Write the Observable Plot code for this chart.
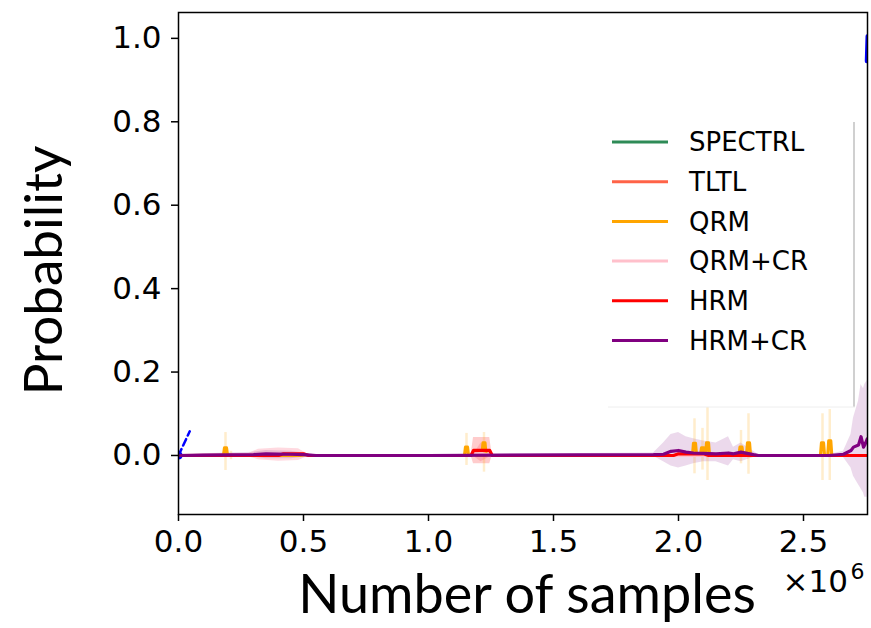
<!DOCTYPE html>
<html><head><meta charset="utf-8">
<script src="https://cdn.jsdelivr.net/npm/d3@7"></script>
<script src="https://cdn.jsdelivr.net/npm/@observablehq/plot@0.6"></script>
<style>body{margin:0;background:#fff} #chart{width:871px;height:628px}</style>
</head><body><div id="chart"></div>
<script>
// ---- data (x in millions of samples) ----
const seriesNames = ["SPECTRL","TLTL","QRM","QRM+CR","HRM","HRM+CR"];
const seriesColors = ["#2e8b57","#ff6347","#ffa500","#ffc0cb","#ff0000","#800080"];
const xTicks = [0, 0.5, 1.0, 1.5, 2.0, 2.5];
const yTicks = [0, 0.2, 0.4, 0.6, 0.8, 1.0];

const spectrlX = [0, 2.755];
const spectrlY = [0, 0];

const tltlX = [0, 0.3, 0.4, 0.5, 2.755];
const tltlY = [0, 0.001, 0.002, 0, 0];

const qrmX = [0, 0.18, 0.184, 0.192, 0.196, 1.144, 1.148, 1.156, 1.16, 1.214, 1.218, 1.226, 1.23,
  2.056, 2.06, 2.068, 2.072, 2.088, 2.092, 2.1, 2.104, 2.108, 2.112, 2.12, 2.124,
  2.242, 2.246, 2.254, 2.258, 2.272, 2.276, 2.284, 2.288, 2.568, 2.572, 2.58, 2.584,
  2.597, 2.601, 2.609, 2.613, 2.755];
const qrmY = [0, 0, 0.018, 0.018, 0, 0, 0.02, 0.02, 0, 0, 0.03, 0.03, 0,
  0, 0.029, 0.029, 0, 0, 0.018, 0.018, 0, 0, 0.03, 0.03, 0,
  0, 0.02, 0.02, 0, 0, 0.03, 0.03, 0, 0, 0.03, 0.03, 0,
  0, 0.035, 0.035, 0, 0];
// QRM spread at the spikes
const qrmSpikeX  = [0.188, 0.21, 1.152, 1.222, 2.064, 2.096, 2.116, 2.25, 2.28, 2.576, 2.605];
const qrmSpikeHi = [0.055, 0.01, 0.053, 0.055, 0.088, 0.065, 0.115, 0.06, 0.1, 0.1, 0.11];
const qrmSpikeLo = [-0.036, -0.01, -0.024, -0.04, -0.044, -0.035, -0.06, -0.02, -0.045, -0.06, -0.06];

const qrmcrX  = [0, 0.27, 0.32, 0.4, 0.48, 0.52, 1.18, 1.21, 1.25, 2.755];
const qrmcrY  = [0, 0, 0.003, 0.004, 0.003, 0, 0, 0.005, 0, 0];
const qrmcrHi = [0, 0.002, 0.015, 0.018, 0.016, 0.002, 0.002, 0.03, 0.002, 0];
const qrmcrLo = [0, -0.002, -0.01, -0.014, -0.012, -0.002, -0.002, -0.015, -0.002, 0];

const hrmX  = [0, 0.4, 0.42, 0.5, 0.52, 1.17, 1.18, 1.245, 1.255, 1.98, 2.0, 2.1, 2.12, 2.755];
const hrmY  = [0, 0, 0.004, 0.004, 0, 0, 0.012, 0.012, 0, 0, 0.004, 0.004, 0, 0];
const hrmHi = [0, 0, 0.006, 0.006, 0, 0, 0.043, 0.043, 0, 0, 0.006, 0.006, 0, 0];
const hrmLo = [0, 0, 0.002, 0.002, 0, 0, -0.02, -0.02, 0, 0, 0.002, 0.002, 0, 0];

const hrmcrX  = [0, 0.1, 0.3, 0.35, 0.45, 0.5, 0.55, 1.0, 1.9, 1.94, 1.97, 2.0, 2.03, 2.06, 2.1, 2.15, 2.2, 2.22, 2.25, 2.3, 2.32, 2.6, 2.66, 2.69, 2.70, 2.72, 2.73, 2.74, 2.745, 2.755];
const hrmcrY  = [0, 0.001, 0.002, 0.004, 0.003, 0.002, 0, 0, 0.002, 0.003, 0.01, 0.012, 0.008, 0.006, 0.005, 0.004, 0.006, 0.004, 0.008, 0.002, 0, 0, 0.003, 0.012, 0.02, 0.025, 0.045, 0.02, 0.025, 0.04];
const hrmcrHi = [0, 0.004, 0.008, 0.012, 0.01, 0.006, 0.002, 0.002, 0.006, 0.03, 0.05, 0.055, 0.045, 0.04, 0.035, 0.03, 0.045, 0.02, 0.03, 0.01, 0.002, 0.002, 0.01, 0.05, 0.09, 0.13, 0.17, 0.16, 0.17, 0.18];
const hrmcrLo = [0, -0.002, -0.004, -0.008, -0.008, -0.004, -0.002, -0.002, -0.002, -0.015, -0.025, -0.03, -0.025, -0.02, -0.015, -0.015, -0.025, -0.01, -0.015, -0.005, -0.002, -0.002, -0.005, -0.03, -0.05, -0.07, -0.08, -0.09, -0.1, -0.1];

// blue dashed trace (partly visible at the edges)
const blueStartX = [0, 0.045];
const blueStartY = [0, 0.058];
const blueEndX = [2.753, 2.756];
const blueEndY = [0.945, 1.005];

// ---- build tables ----
function rows(name, xs, ys, hi, lo) {
  return xs.map((x, i) => ({s: name, x, y: ys[i], hi: hi ? hi[i] : ys[i], lo: lo ? lo[i] : ys[i]}));
}
const lineData = [
  ...rows("SPECTRL", spectrlX, spectrlY),
  ...rows("TLTL", tltlX, tltlY),
  ...rows("QRM", qrmX, qrmY),
  ...rows("QRM+CR", qrmcrX, qrmcrY, qrmcrHi, qrmcrLo),
  ...rows("HRM", hrmX, hrmY, hrmHi, hrmLo),
  ...rows("HRM+CR", hrmcrX, hrmcrY, hrmcrHi, hrmcrLo)
];
const bandData = lineData.filter(d => ["QRM+CR","HRM","HRM+CR"].includes(d.s));
const qrmSpikes = qrmSpikeX.map((x, i) => ({x, hi: qrmSpikeHi[i], lo: qrmSpikeLo[i]}));
const blueA = blueStartX.map((x, i) => ({x, y: blueStartY[i]}));
const blueB = blueEndX.map((x, i) => ({x, y: blueEndY[i]}));

const W = 871, H = 628, ML = 178, MR = 4, MT = 12, MB = 114;

const chart = Plot.plot({
  width: W, height: H,
  marginLeft: ML, marginRight: MR, marginTop: MT, marginBottom: MB,
  style: {fontFamily: "DejaVu Sans", background: "white", color: "black"},
  x: {domain: [0, 2.756]},
  y: {domain: [-0.1415, 1.062]},
  color: {domain: seriesNames, range: seriesColors},
  marks: [
    Plot.areaY(bandData.filter(d => d.s === "QRM+CR"), {x: "x", y1: "lo", y2: "hi", fill: "#ffc0cb", fillOpacity: 0.6, clip: true}),
    Plot.areaY(bandData.filter(d => d.s === "HRM"), {x: "x", y1: "lo", y2: "hi", fill: "#ff0000", fillOpacity: 0.2, clip: true}),
    Plot.areaY(bandData.filter(d => d.s === "HRM+CR"), {x: "x", y1: "lo", y2: "hi", fill: "#800080", fillOpacity: 0.15, clip: true}),
    Plot.ruleX(qrmSpikes, {x: "x", y1: "lo", y2: "hi", stroke: "#ffa500", strokeOpacity: 0.2, strokeWidth: 2.5, clip: true}),
    Plot.line(blueA, {x: "x", y: "y", stroke: "#0000ff", strokeWidth: 2.5, strokeDasharray: "7,4", clip: true}),
    Plot.dot(blueA.slice(0, 1), {x: "x", y: "y", r: 4, fill: "#0000ff", clip: true}),
    Plot.line(blueB, {x: "x", y: "y", stroke: "#0000ff", strokeWidth: 4, clip: true}),
    Plot.line(lineData, {x: "x", y: "y", z: "s", stroke: "s", strokeWidth: 3.2, clip: true}),
    Plot.frame({stroke: "black", strokeWidth: 1.5}),
    Plot.axisX(xTicks, {tickSize: 7, tickPadding: 8, strokeWidth: 1.5, tickFormat: d => d.toFixed(1), fontSize: 31, fontFamily: "DejaVu Sans", fill: "black", label: null}),
    Plot.axisY(yTicks, {tickSize: 7, tickPadding: 10, strokeWidth: 1.5, tickFormat: d => d.toFixed(1), fontSize: 31, fontFamily: "DejaVu Sans", fill: "black", label: null}),
    Plot.text(["Probability"], {frameAnchor: "left", rotate: -90, dx: -133, dy: 7, fontSize: 53, fontFamily: "Lato", fill: "black", textAnchor: "middle", lineAnchor: "middle"}),
    Plot.text(["Number of samples"], {frameAnchor: "bottom", dx: 4, dy: 81, fontSize: 54, fontFamily: "Lato", fill: "black", textAnchor: "middle", lineAnchor: "middle"}),
    Plot.text(["×10"], {frameAnchor: "bottom-right", dx: -85, dy: 68, fontSize: 31, fontFamily: "DejaVu Sans", fill: "black", textAnchor: "start", lineAnchor: "middle"}),
    Plot.text(["6"], {frameAnchor: "bottom-right", dx: -17, dy: 57, fontSize: 22, fontFamily: "DejaVu Sans", fill: "black", textAnchor: "start", lineAnchor: "middle"})
  ]
});
document.getElementById("chart").appendChild(chart);

// ---- legend inside the axes ----
const svg = d3.select(chart);
const lg = svg.append("g");
lg.append("rect").attr("x", 608).attr("y", 122).attr("width", 247).attr("height", 285).attr("fill", "white").attr("fill-opacity", 0.8);
lg.append("line").attr("x1", 854).attr("x2", 854).attr("y1", 122).attr("y2", 407).attr("stroke", "#d0d0d0").attr("stroke-width", 2);
lg.append("line").attr("x1", 608).attr("x2", 855).attr("y1", 407).attr("y2", 407).attr("stroke", "#eeeeee").attr("stroke-width", 1);
seriesNames.forEach((name, i) => {
  const y = 142 + i * 39.7;
  lg.append("line").attr("x1", 612).attr("x2", 668).attr("y1", y).attr("y2", y)
    .attr("stroke", seriesColors[i]).attr("stroke-width", 3);
  lg.append("text").attr("x", 689).attr("y", y).attr("dy", "0.36em")
    .attr("text-anchor", "start")
    .attr("font-family", "DejaVu Sans").attr("font-size", 26).attr("fill", "black").text(name);
});
</script>
</body></html>
